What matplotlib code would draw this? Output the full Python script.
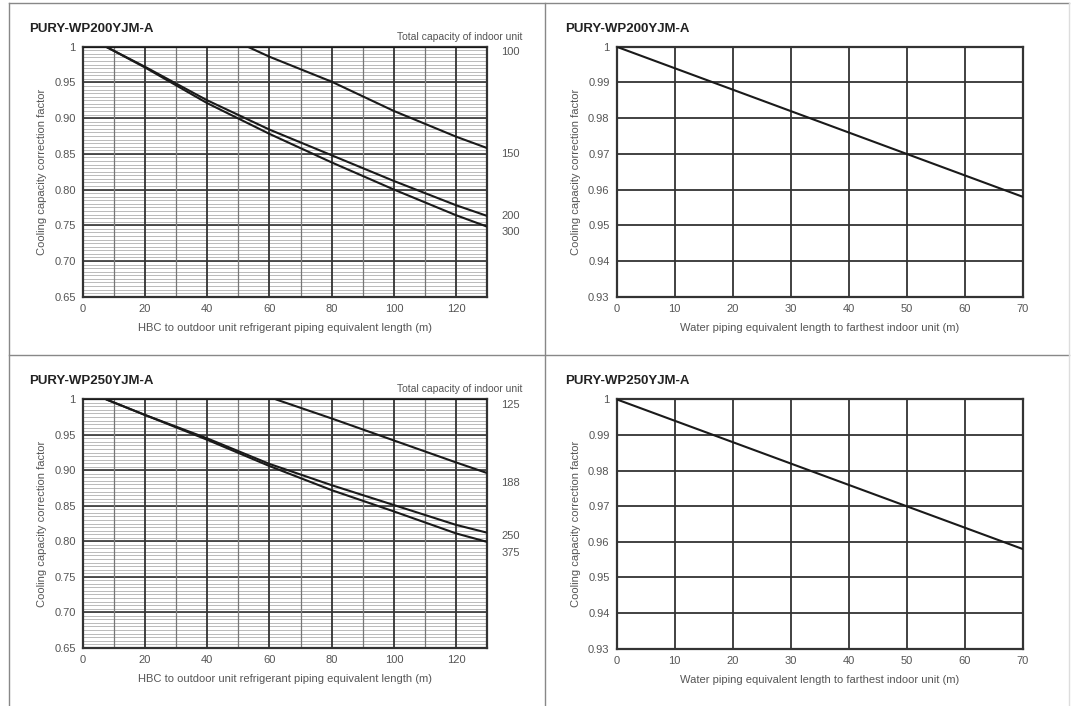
import matplotlib
matplotlib.use("Agg")
import matplotlib.pyplot as plt
import numpy as np
from matplotlib.lines import Line2D

W, H = 1073, 706

# ---------------- data ----------------
titles_left = ["PURY-WP200YJM-A", "PURY-WP250YJM-A"]
titles_right = ["PURY-WP200YJM-A", "PURY-WP250YJM-A"]

# Top-left (PURY-WP200YJM-A) refrigerant piping curves
tl_labels = ["100", "150", "200", "300"]
tl_x = [
    [0, 130],
    [53, 60, 80, 100, 120, 130],
    [7.5, 20, 40, 60, 80, 100, 120, 130],
    [7.5, 20, 40, 60, 80, 100, 120, 130],
]
tl_y = [
    [1.0, 1.0],
    [1.0, 0.986, 0.951, 0.910, 0.874, 0.858],
    [1.0, 0.972, 0.925, 0.884, 0.848, 0.812, 0.778, 0.763],
    [1.0, 0.971, 0.921, 0.878, 0.838, 0.800, 0.764, 0.748],
]

# Bottom-left (PURY-WP250YJM-A)
bl_labels = ["125", "188", "250", "375"]
bl_x = [
    [0, 130],
    [62, 80, 100, 120, 130],
    [7.5, 20, 40, 60, 80, 100, 120, 130],
    [7.5, 20, 40, 60, 80, 100, 120, 130],
]
bl_y = [
    [1.0, 1.0],
    [1.0, 0.973, 0.942, 0.911, 0.896],
    [1.0, 0.978, 0.945, 0.909, 0.879, 0.851, 0.823, 0.812],
    [1.0, 0.978, 0.943, 0.906, 0.872, 0.842, 0.811, 0.799],
]

# Water piping (right panels)
water_x = [0, 10, 20, 30, 40, 50, 60, 70]
water_y = [1.0, 0.994, 0.988, 0.982, 0.976, 0.970, 0.964, 0.958]

left_xticks = [0, 20, 40, 60, 80, 100, 120]
left_yticks = [0.65, 0.70, 0.75, 0.80, 0.85, 0.90, 0.95, 1.0]
left_yticklabels = ["0.65", "0.70", "0.75", "0.80", "0.85", "0.90", "0.95", "1"]
right_xticks = [0, 10, 20, 30, 40, 50, 60, 70]
right_yticks = [0.93, 0.94, 0.95, 0.96, 0.97, 0.98, 0.99, 1.0]
right_yticklabels = ["0.93", "0.94", "0.95", "0.96", "0.97", "0.98", "0.99", "1"]

ylabel = "Cooling capacity correction factor"
left_xlabel = "HBC to outdoor unit refrigerant piping equivalent length (m)"
right_xlabel = "Water piping equivalent length to farthest indoor unit (m)"
legend_title = "Total capacity of indoor unit"

# label vertical offsets (points) for end labels
tl_label_dy = [-4, -4, 0, -4]
bl_label_dy = [-4, -7, -2, -8]

# ---------------- layout ----------------
plt.rcParams['font.family'] = ['Liberation Sans', 'DejaVu Sans']
fig = plt.figure(figsize=(W / 100, H / 100), dpi=100)
fig.patch.set_facecolor("white")


def px_axes(l, r, t, b):
    return fig.add_axes([l / W, 1 - b / H, (r - l) / W, (b - t) / H])


TXT = "#555555"
DARK = "#222222"


def style_common(ax):
    for s in ax.spines.values():
        s.set_color("#333333")
        s.set_linewidth(1.6)
    ax.tick_params(length=0, labelsize=8, colors=TXT, pad=5)


def left_panel(ax, xs, ys, labels, dys, title, toppx):
    ax.set_xlim(0, 130)
    ax.set_ylim(0.65, 1.0)
    # minor horizontal grid every 0.005
    for v in np.arange(0.655, 1.0, 0.005):
        ax.axhline(v, color="#b0b0b0", lw=0.6, zorder=1)
    for v in [0.70, 0.75, 0.80, 0.85, 0.90, 0.95]:
        ax.axhline(v, color="#333333", lw=1.2, zorder=2)
    for v in range(10, 130, 20):
        ax.axvline(v, color="#777777", lw=0.9, zorder=2)
    for v in range(20, 130, 20):
        ax.axvline(v, color="#333333", lw=1.3, zorder=2)
    for x, y in zip(xs, ys):
        ax.plot(x, y, color="#1a1a1a", lw=1.5, zorder=3, solid_capstyle="butt")
    for x, y, lab, dy in zip(xs, ys, labels, dys):
        ax.annotate(lab, xy=(x[-1], y[-1]), xytext=(10, dy), textcoords="offset points",
                    fontsize=8, color=TXT, va="center", ha="left", annotation_clip=False)
    ax.set_xticks(left_xticks)
    ax.set_yticks(left_yticks)
    ax.set_yticklabels(left_yticklabels)
    style_common(ax)
    ax.set_xlabel(left_xlabel, fontsize=8, color=TXT, labelpad=7)
    ax.set_ylabel(ylabel, fontsize=8, color=TXT, labelpad=5)
    fig.text(29 / W, 1 - (toppx - 18) / H, title, fontsize=9.5, fontweight="bold",
             color=DARK, ha="left", va="center")
    fig.text(522 / W, 1 - (toppx - 10) / H, legend_title, fontsize=7.5,
             color=TXT, ha="right", va="center")


def right_panel(ax, title, toppx):
    ax.set_xlim(0, 70)
    ax.set_ylim(0.93, 1.0)
    for v in right_yticks[1:-1]:
        ax.axhline(v, color="#333333", lw=1.3, zorder=2)
    for v in right_xticks[1:-1]:
        ax.axvline(v, color="#333333", lw=1.3, zorder=2)
    ax.plot(water_x, water_y, color="#1a1a1a", lw=1.5, zorder=3)
    ax.set_xticks(right_xticks)
    ax.set_yticks(right_yticks)
    ax.set_yticklabels(right_yticklabels)
    style_common(ax)
    ax.set_xlabel(right_xlabel, fontsize=8, color=TXT, labelpad=7)
    ax.set_ylabel(ylabel, fontsize=8, color=TXT, labelpad=5)
    fig.text(565 / W, 1 - (toppx - 18) / H, title, fontsize=9.5, fontweight="bold",
             color=DARK, ha="left", va="center")


ax1 = px_axes(82.6, 487.3, 46.7, 296.7)
left_panel(ax1, tl_x, tl_y, tl_labels, tl_label_dy, titles_left[0], 46.7)
ax2 = px_axes(616.5, 1022.5, 46.7, 296.7)
right_panel(ax2, titles_right[0], 46.7)
ax3 = px_axes(82.6, 487.3, 399.3, 647.7)
left_panel(ax3, bl_x, bl_y, bl_labels, bl_label_dy, titles_left[1], 399.3)
ax4 = px_axes(616.5, 1022.5, 399.3, 648.7)
right_panel(ax4, titles_right[1], 399.3)

# panel frame lines
def fline(x0, y0, x1, y1, c="#888888", lw=1.0):
    fig.add_artist(Line2D([x0 / W, x1 / W], [1 - y0 / H, 1 - y1 / H], color=c, lw=lw,
                          transform=fig.transFigure))

fline(9, 3, 1069, 3)
fline(9, 3, 9, 706)
fline(545, 3, 545, 706)
fline(9, 355, 1069, 355)
fline(1069, 3, 1069, 706, c="#dddddd")

fig.savefig("out.png", dpi=100, facecolor="white")
